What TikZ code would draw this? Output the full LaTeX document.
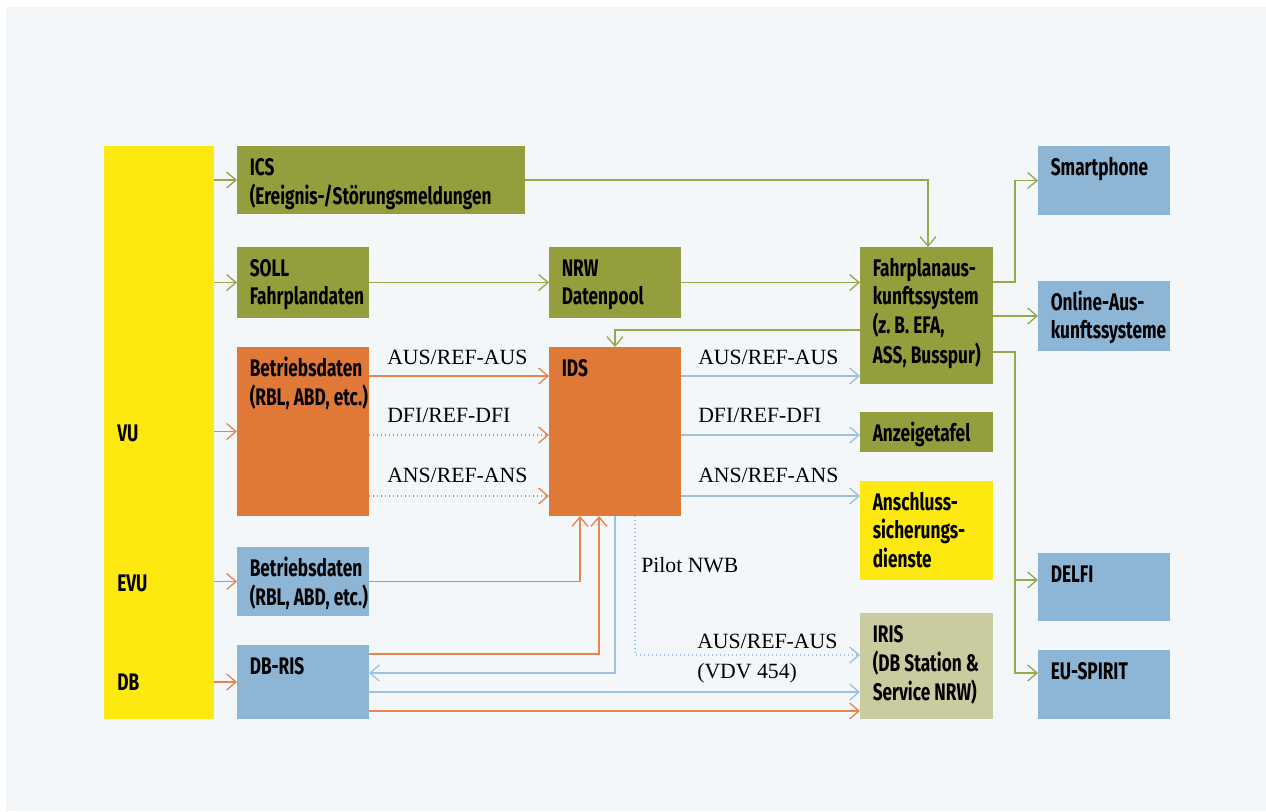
\documentclass[tikz,border=0pt]{standalone}
\usepackage{fontspec}
\usetikzlibrary{arrows.meta,fit,calc}
\newfontfamily\bxf[FakeStretch=0.72]{Fira Sans}
\newfontfamily\lblf{Liberation Serif}
\definecolor{panel}{HTML}{F3F7FA}
\definecolor{gbox}{HTML}{949E3D}
\definecolor{obox}{HTML}{E07838}
\definecolor{bbox}{HTML}{8DB5D5}
\definecolor{ybox}{HTML}{FDE910}
\definecolor{kbox}{HTML}{CBCBA0}
\definecolor{gline}{HTML}{9CA64C}
\definecolor{oline}{HTML}{E8854F}
\definecolor{bline}{HTML}{9DC1DF}
\tikzset{
  boxtxt/.style={anchor=base west,inner sep=0pt,font=\bxf\bfseries\fontsize{18}{21.5}\selectfont},
  lbl/.style={anchor=base west,inner sep=0pt,font=\lblf\fontsize{16.3}{22}\selectfont},
  conn/.style={line width=1pt,-{Straight Barb[length=7pt,width=12pt,line width=1pt]}},
  garrow/.style={conn,draw=gline},
  oarrow/.style={conn,draw=oline},
  barrow/.style={conn,draw=bline},
  dotted line/.style={dash pattern=on 1pt off 2pt},
}
\newcommand\mybox[7]{%
  \node[fit={(#2,#3)(#4,#5)},inner sep=0pt,outer sep=0pt,fill=#6,draw=none] (#1) {};
  \node[boxtxt] (#1-t) at ([shift={(12.5,29)}]#1.north west) {\begin{tabular}[t]{@{}l@{}}#7\end{tabular}};}
\begin{document}
\begin{tikzpicture}[x=0.75pt,y=-0.75pt]
\useasboundingbox (0,0) rectangle (1266,811);
\fill[white] (0,0) rectangle (1266,811);
\fill[panel] (6,7) rectangle (1266,811);
% boxes
\node[fit={(104,146)(214,719)},inner sep=0pt,outer sep=0pt,fill=ybox] (VU) {};
\node[boxtxt] (VU-t) at (117,441) {VU};
\node[boxtxt] (EVU-t) at (117,591) {EVU};
\node[boxtxt] (DB-t) at (117,690) {DB};
\mybox{ICS}{237}{146}{525}{214}{gbox}{ICS\\(Ereignis-/Störungsmeldungen}
\mybox{SOLL}{237}{247}{369}{318}{gbox}{SOLL\\Fahrplandaten}
\mybox{NRW}{549}{247}{681}{318}{gbox}{NRW\\Datenpool}
\mybox{FPA}{860}{247}{993}{384}{gbox}{Fahrplanaus-\\kunftssystem\\(z.\,B. EFA,\\ASS, Busspur)}
\mybox{Smart}{1038}{146}{1170}{215}{bbox}{Smartphone}
\mybox{Online}{1038}{281}{1170}{351}{bbox}{Online-Aus-\\kunftssysteme}
\mybox{BetO}{237}{347}{369}{516}{obox}{Betriebsdaten\\(RBL, ABD, etc.)}
\mybox{IDS}{549}{347}{681}{516}{obox}{IDS}
\mybox{Anz}{860}{412}{993}{452}{gbox}{Anzeigetafel}
\mybox{Ans}{860}{481}{993}{580}{ybox}{Anschluss-\\sicherungs-\\dienste}
\mybox{BetB}{237}{547}{369}{616}{bbox}{Betriebsdaten\\(RBL, ABD, etc.)}
\mybox{DELFI}{1038}{553}{1170}{621}{bbox}{DELFI}
\mybox{DBRIS}{237}{645}{369}{719}{bbox}{DB-RIS}
\mybox{IRIS}{860}{613}{993}{719}{kbox}{IRIS\\(DB Station \&\\Service NRW)}
\mybox{EU}{1038}{650}{1170}{719}{bbox}{EU-SPIRIT}
% helper coordinates
\coordinate (r1) at (0,376);
\coordinate (r2) at (0,435);
\coordinate (r3) at (0,496);
\coordinate (busR) at (1015,0);
\coordinate (xF) at (928,0);
\coordinate (fs) at (993,282);
\coordinate (fd) at (993,352);
\coordinate (fi) at (860,330);
\coordinate (dI) at (0,580);
\coordinate (eI) at (0,673);
\coordinate (xB) at (580,0);
\coordinate (xD) at (599,0);
\coordinate (xR) at (615,0);
\coordinate (xP) at (635,0);
\coordinate (yD) at (0,654);
\coordinate (yR) at (0,673);
\coordinate (yP) at (0,655);
\coordinate (yb) at (0,692);
\coordinate (yo) at (0,711);
% VU arrows
\draw[garrow] (VU.east |- ICS.west) -- (ICS.west);
\draw[garrow] (VU.east |- SOLL.west) -- (SOLL.west);
\draw[oarrow] (VU.east |- BetO.west) -- (BetO.west);
\draw[oarrow] (VU.east |- BetB.west) -- (BetB.west);
\draw[oarrow] (VU.east |- DBRIS.west) -- (DBRIS.west);
% green flows
\draw[garrow] (ICS.east) -| (FPA.north -| xF);
\draw[garrow] (SOLL.east) -- (NRW.west);
\draw[garrow] (NRW.east) -- (NRW.east -| FPA.west);
\draw[garrow] (fs) -- (fs -| busR) |- (Smart.west);
\draw[garrow] (FPA.east |- Online.west) -- (Online.west);
\draw[garrow] (fd) -- (fd -| busR) |- (DELFI.west |- dI);
\draw[garrow] (fd -| busR) |- (EU.west |- eI);
\draw[garrow] (fi) -| (IDS.north);
% Betriebsdaten -> IDS
\draw[oarrow] (BetO.east |- r1) -- (IDS.west |- r1);
\draw[oarrow,dotted line] (BetO.east |- r2) -- (IDS.west |- r2);
\draw[oarrow,dotted line] (BetO.east |- r3) -- (IDS.west |- r3);
\node[lbl] (l1) at (387,364) {AUS/REF-AUS};
\node[lbl] (l2) at (387,422) {DFI/REF-DFI};
\node[lbl] (l3) at (387,482) {ANS/REF-ANS};
% IDS -> right
\draw[barrow] (IDS.east |- r1) -- (FPA.west |- r1);
\draw[barrow] (IDS.east |- r2) -- (Anz.west |- r2);
\draw[barrow] (IDS.east |- r3) -- (Ans.west |- r3);
\node[lbl] (l4) at (698,364) {AUS/REF-AUS};
\node[lbl] (l5) at (698,422) {DFI/REF-DFI};
\node[lbl] (l6) at (698,482) {ANS/REF-ANS};
% lower flows
\draw[oarrow] (BetB.east) -| (IDS.south -| xB);
\draw[oarrow] (DBRIS.east |- yD) -| (IDS.south -| xD);
\draw[barrow] (IDS.south -| xR) |- (DBRIS.east |- yR);
\draw[barrow,dotted line] (IDS.south -| xP) |- (IRIS.west |- yP);
\draw[barrow] (DBRIS.east |- yb) -- (IRIS.west |- yb);
\draw[oarrow] (DBRIS.east |- yo) -- (IRIS.west |- yo);
\node[lbl] (l7) at (641,572) {Pilot NWB};
\node[lbl] (l8) at (697,648) {AUS/REF-AUS};
\node[lbl] (l9) at (697,678) {(VDV 454)};
\end{tikzpicture}
\end{document}
